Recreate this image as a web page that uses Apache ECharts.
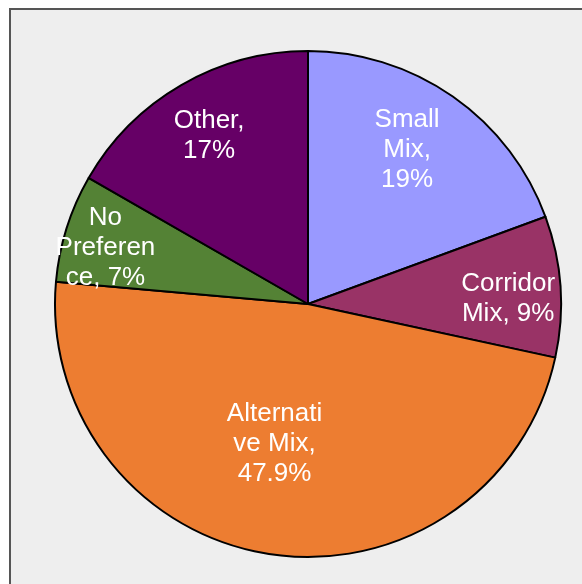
<!DOCTYPE html>
<html>
<head>
<meta charset="utf-8">
<script src="https://cdn.jsdelivr.net/npm/echarts@6/dist/echarts.min.js"></script>
<style>
html,body{margin:0;padding:0;background:#ffffff;}
#chart{width:582px;height:584px;}
</style>
</head>
<body>
<div id="chart"></div>
<script>
const categories = ['Small Mix', 'Corridor Mix', 'Alternative Mix', 'No Preference', 'Other'];
const values = [19.4, 9.0, 48.0, 6.9, 16.7];
const labelTexts = ['Small\nMix,\n19%', 'Corridor\nMix, 9%', 'Alternati\nve Mix,\n47.9%', 'No\nPreferen\nce, 7%', 'Other,\n17%'];
const colors = ['#9999ff', '#993366', '#ed7d31', '#548235', '#660066'];
const labelOffsets = [[25, -48], [71, 4], [-14, 12], [-79, -17], [-34, -56]];

const chart = echarts.init(document.getElementById('chart'), null, {renderer: 'canvas'});
const data = categories.map((c, i) => ({
  name: c,
  value: values[i],
  itemStyle: {color: colors[i]},
  label: {offset: labelOffsets[i]}
}));
chart.setOption({
  backgroundColor: '#ffffff',
  animation: false,
  graphic: [{
    type: 'rect',
    z: -10,
    shape: {x: 10, y: 9, width: 620, height: 620},
    style: {fill: '#eeeeee', stroke: '#555555', lineWidth: 2}
  }],
  series: [{
    type: 'pie',
    center: [308, 304],
    radius: [0, 253],
    startAngle: 90,
    clockwise: true,
    silent: true,
    data: data,
    itemStyle: {borderColor: '#000000', borderWidth: 2},
    label: {
      show: true,
      position: 'inside',
      formatter: p => labelTexts[p.dataIndex],
      color: '#ffffff',
      fontFamily: 'Liberation Sans, Arial, sans-serif',
      fontSize: 26,
      lineHeight: 30,
      align: 'center'
    },
    labelLine: {show: false},
    emphasis: {disabled: true}
  }]
});
</script>
</body>
</html>
